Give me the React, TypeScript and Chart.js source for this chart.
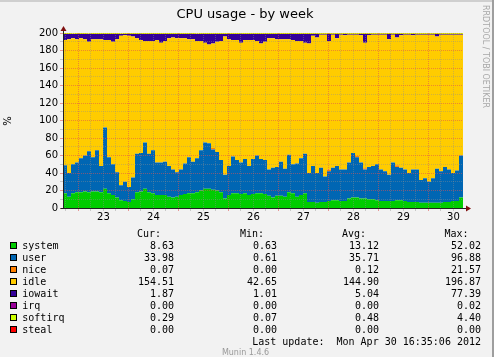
import React, { useEffect, useRef } from 'react';
import { Chart, registerables } from 'chart.js';

Chart.register(...registerables);

// ---- time axis (day-of-month units; Apr 22 16:35 -> Apr 30 16:35) ----
const START = 22.691;
const END = 30.691;
const STEP = 0.08; // one sample column = 1.92 h

// ---- series values (percent, 2 CPUs = 200%) ----
const SYSTEM = [
  17, 13, 17, 18, 18, 19, 18, 19, 19, 18, 22, 17, 15, 12, 9, 8, 7, 10, 18, 19, 22, 18, 17, 15, 15,
  15, 13, 12, 13, 15, 16, 17, 17, 18, 20, 22, 22, 21, 20, 18, 11, 15, 17, 17, 16, 17, 15, 16, 17, 17,
  16, 14, 12, 14, 14, 13, 18, 17, 13, 15, 17, 7, 7, 6, 7, 7, 8, 9, 9, 8, 8, 11, 12, 12, 11,
  11, 10, 10, 9, 8, 8, 8, 8, 9, 9, 8, 7, 7, 7, 6, 6, 6, 6, 6, 6, 7, 7, 8, 8, 12,
];
const USER = [
  32, 27, 33, 34, 39, 41, 47, 39, 47, 30, 70, 41, 35, 29, 17, 22, 17, 25, 44, 44, 53, 44, 49, 37, 37,
  38, 35, 32, 28, 29, 35, 41, 36, 39, 46, 53, 52, 46, 44, 37, 27, 33, 42, 38, 36, 39, 33, 40, 43, 39,
  39, 30, 34, 33, 39, 32, 43, 33, 38, 42, 45, 33, 41, 34, 39, 29, 34, 37, 39, 36, 36, 41, 51, 46, 41,
  33, 37, 38, 41, 36, 34, 30, 44, 38, 37, 36, 33, 37, 37, 26, 28, 24, 28, 39, 36, 40, 37, 32, 35, 48,
];
const NICE = [
  0, 0, 0, 0, 0, 0, 0, 0, 0, 0, 0, 0, 0, 0, 0, 0, 0, 0, 0, 0, 0, 0, 0, 0, 0,
  0, 0, 0, 0, 0, 0, 0, 0, 0, 0, 0, 0, 1.5, 0, 0, 0, 0, 0, 0, 0, 0, 0, 0, 0, 0,
  0, 0, 0, 0, 0, 0, 0, 0, 0, 0, 0, 0, 0, 0, 0, 0, 2, 0, 0, 0, 0, 0, 0, 1.5, 0,
  1.5, 0, 0, 0, 0, 0, 0, 0, 2, 0, 0, 0, 0, 0, 0, 0, 0, 0, 0, 0, 0, 0, 0, 0, 0,
];
const IDLE = [
  143, 153, 144, 141, 137, 133, 125, 135, 127, 145, 100, 134, 140, 152, 171, 167.5, 173, 161, 132, 129, 116, 129, 125, 140, 137,
  138, 146, 151, 153, 150, 143, 135, 140, 134, 125, 114, 113, 119.5, 126, 136, 158, 145, 133, 137, 137, 136, 144, 136, 131, 132,
  135, 150, 148, 146, 140, 148, 132, 142, 140, 134, 127, 148, 149, 155, 152, 162, 147, 152, 146, 154, 153.5, 146, 135, 138.5, 145.5,
  143.5, 150.8, 150, 148, 154, 156, 155, 146, 146, 151.5, 154, 158, 153.5, 154, 166, 164, 168, 164, 151, 156, 151, 154, 158, 155, 138,
];
const IOWAIT = [
  7, 6, 5, 6, 5, 6, 9, 6, 6, 6, 7, 7, 9, 6, 2, 1.5, 2, 3, 5, 7, 8, 8, 8, 7, 10,
  8, 5, 4, 5, 5, 5, 6, 6, 8, 8, 10, 12, 11, 9, 8, 3, 6, 7, 7, 10, 7, 7, 7, 8, 11,
  9, 5, 5, 6, 6, 6, 6, 7, 8, 8, 10, 11, 2, 4, 1, 1, 8, 1, 5, 1, 1.5, 1, 1, 1, 1.5,
  10, 1.2, 1, 1, 1, 1, 6, 1, 4, 1.5, 1, 1, 1.5, 1, 1, 1, 1, 1, 3, 1, 1, 1, 1, 1, 1,
];
const SOFTIRQ = [
  0.9, 0.9, 0.8, 0.9, 0.9, 0.9, 0.8, 0.9, 0.9, 0.9, 0.9, 0.9, 0.9, 0.9, 0.8, 0.9, 0.9, 0.9, 0.9, 0.9, 0.9, 0.9, 0.9, 0.9, 0.9,
  0.9, 0.9, 0.9, 0.9, 0.9, 0.9, 0.9, 0.9, 0.8, 0.9, 0.9, 0.9, 0.9, 0.9, 0.9, 0.9, 0.9, 0.9, 0.9, 0.9, 0.9, 0.9, 0.9, 0.9, 0.9,
  0.9, 0.9, 0.9, 0.9, 0.9, 0.9, 0.9, 0.9, 0.9, 0.9, 0.9, 0.9, 1.0, 1.0, 1.0, 1.0, 1.0, 1.0, 1.0, 1.0, 1.0, 1.0, 1.0, 1.0, 1.0,
  1.0, 1.0, 1.0, 1.0, 1.0, 1.0, 1.0, 1.0, 1.0, 1.0, 1.0, 1.0, 1.0, 1.0, 1.0, 1.0, 1.0, 1.0, 1.0, 1.0, 1.0, 1.0, 1.0, 1.0, 1.0,
];

// ---- legend table ----
const LEGEND_NAMES = ['system', 'user', 'nice', 'idle', 'iowait', 'irq', 'softirq', 'steal'];
const CUR = [8.63, 33.98, 0.07, 154.51, 1.87, 0.0, 0.29, 0.0];
const MIN = [0.63, 0.61, 0.0, 42.65, 1.01, 0.0, 0.07, 0.0];
const AVG = [13.12, 35.71, 0.12, 144.9, 5.04, 0.0, 0.48, 0.0];
const MAX = [52.02, 96.88, 21.57, 196.87, 77.39, 0.02, 4.4, 0.0];
const LAST_UPDATE = 'Last update:  Mon Apr 30 16:35:06 2012';

// ---- styles ----
const COLORS = ['#00CC00', '#0066B3', '#FF8000', '#FFCC00', '#330099', '#990099', '#CCFF00', '#FF0000'];
const GRID = 'rgba(143,143,143,0.42)';
const MGRID = 'rgba(222,80,80,0.55)';
const AXIS = '#202020';
const ARROW = '#7F1010';
const SANS = "'DejaVu Sans', sans-serif";
const MONO = "'DejaVu Sans Mono', monospace";

const SERIES = [
  { values: SYSTEM, color: COLORS[0] },
  { values: USER, color: COLORS[1] },
  { values: NICE, color: COLORS[2] },
  { values: IDLE, color: COLORS[3] },
  { values: IOWAIT, color: COLORS[4] },
  { values: SOFTIRQ, color: COLORS[6] },
];

function buildTimes(n: number): number[] {
  const t: number[] = [];
  for (let i = 0; i <= n; i++) t.push(START + i * STEP);
  return t;
}

function buildXTicks(): { value: number }[] {
  const out: { value: number }[] = [];
  for (let v = Math.ceil(START * 4) / 4; v < END; v += 0.25) out.push({ value: v });
  return out;
}

function buildYTicks(): { value: number }[] {
  const out: { value: number }[] = [];
  for (let v = 0; v <= 200; v += 10) out.push({ value: v });
  return out;
}

const decor = {
  id: 'decor',
  beforeDatasetsDraw(chart: any) {
    const { ctx, chartArea: a } = chart;
    ctx.save();
    ctx.fillStyle = '#FFFFFF';
    ctx.fillRect(a.left, a.top, a.right - a.left, a.bottom - a.top);
    ctx.restore();
  },
  afterDraw(chart: any) {
    const { ctx, chartArea: a } = chart;
    const x0 = Math.round(a.left) + 0.5;
    const y0 = Math.round(a.bottom) + 0.5;
    ctx.save();
    ctx.strokeStyle = AXIS;
    ctx.lineWidth = 1;
    ctx.beginPath();
    ctx.moveTo(x0, y0);
    ctx.lineTo(x0, a.top - 3);
    ctx.moveTo(x0 - 3, y0);
    ctx.lineTo(a.right + 3, y0);
    ctx.stroke();
    ctx.fillStyle = ARROW;
    ctx.beginPath();
    ctx.moveTo(x0, a.top - 7);
    ctx.lineTo(x0 - 3, a.top - 2);
    ctx.lineTo(x0 + 3, a.top - 2);
    ctx.closePath();
    ctx.fill();
    ctx.beginPath();
    ctx.moveTo(a.right + 8, y0);
    ctx.lineTo(a.right + 3, y0 - 3);
    ctx.lineTo(a.right + 3, y0 + 3);
    ctx.closePath();
    ctx.fill();
    ctx.restore();
  },
};

export default function App() {
  const ref = useRef<HTMLCanvasElement>(null);

  useEffect(() => {
    if (!ref.current) return;
    const times = buildTimes(SYSTEM.length);
    const datasets = SERIES.map((s, k) => {
      const vals = [...s.values, s.values[s.values.length - 1]];
      return {
        data: vals.map((y, i) => ({ x: times[i], y })),
        backgroundColor: s.color,
        borderColor: 'rgba(0,0,0,0)',
        borderWidth: 0,
        pointRadius: 0,
        stepped: true,
        fill: k === 0 ? 'origin' : '-1',
      };
    });
    const chart = new Chart(ref.current, {
      type: 'line',
      data: { datasets },
      options: {
        responsive: false,
        animation: false,
        events: [],
        layout: { padding: { left: 0, right: 31, top: 33, bottom: 129 } },
        plugins: {
          legend: { display: false },
          tooltip: { enabled: false },
          title: { display: false },
        },
        scales: {
          x: {
            type: 'linear',
            min: START,
            max: END,
            afterBuildTicks: (s: any) => {
              s.ticks = buildXTicks();
            },
            afterFit: (s: any) => {
              s.height = 20;
            },
            ticks: {
              autoSkip: false,
              maxRotation: 0,
              padding: 0,
              color: '#000',
              z: 2,
              font: { family: SANS, size: 10 },
              callback: (v: any) => {
                const n = Number(v);
                return Math.abs(n - Math.floor(n) - 0.5) < 1e-6 ? String(Math.floor(n)) : '';
              },
            },
            grid: {
              z: 1,
              color: (c: any) => (c.tick && Math.abs(c.tick.value - Math.round(c.tick.value)) < 1e-6 ? MGRID : GRID),
              lineWidth: 1,
              tickLength: 3,
            },
            border: { display: false, dash: [1, 1] },
          },
          y: {
            type: 'linear',
            min: 0,
            max: 200,
            stacked: true,
            afterBuildTicks: (s: any) => {
              s.ticks = buildYTicks();
            },
            afterFit: (s: any) => {
              s.width = 63;
            },
            ticks: {
              autoSkip: false,
              padding: 2,
              color: '#000',
              z: 2,
              font: { family: SANS, size: 10 },
              callback: (v: any) => (Number(v) % 20 === 0 ? String(v) : ''),
            },
            grid: {
              z: 1,
              color: (c: any) => (c.tick && c.tick.value % 20 === 0 ? MGRID : GRID),
              lineWidth: 1,
              tickLength: 3,
            },
            border: { display: false, dash: [1, 1] },
          },
        },
      } as any,
      plugins: [decor],
    });
    return () => chart.destroy();
  }, []);

  const rowTop = (i: number) => 240.8 + 12 * i;
  const mono: React.CSSProperties = {
    position: 'absolute',
    fontFamily: MONO,
    fontSize: 10,
    lineHeight: '10px',
    whiteSpace: 'pre',
    color: '#000',
  };
  const valueCols = [
    { data: CUR, right: 174 },
    { data: MIN, right: 277 },
    { data: AVG, right: 379 },
    { data: MAX, right: 481 },
  ];
  const headers = [
    { text: 'Cur:', left: 137 },
    { text: 'Min:', left: 240 },
    { text: 'Avg:', left: 342 },
    { text: 'Max:', left: 444.5 },
  ];

  return (
    <div
      style={{
        position: 'absolute',
        left: 0,
        top: 0,
        width: 494,
        height: 357,
        background: '#F2F2F2',
        overflow: 'hidden',
      }}
    >
      <div style={{ position: 'absolute', left: 0, top: 0, width: 494, height: 2, background: '#CFCFCF' }} />
      <div style={{ position: 'absolute', left: 492, top: 0, width: 2, height: 357, background: '#9E9E9E' }} />
      <canvas
        ref={ref}
        width={494}
        height={357}
        style={{ position: 'absolute', left: 0, top: 0, width: 494, height: 357 }}
      />
      <div
        style={{
          position: 'absolute',
          left: 0,
          top: 7.3,
          width: 490,
          textAlign: 'center',
          fontFamily: SANS,
          fontSize: 13,
          lineHeight: '13px',
          whiteSpace: 'pre',
          color: '#000',
        }}
      >
        CPU usage - by week
      </div>
      <div
        style={{
          position: 'absolute',
          left: 2,
          top: 115,
          width: 12,
          height: 12,
          fontFamily: SANS,
          fontSize: 10,
          lineHeight: '12px',
          textAlign: 'center',
          transform: 'rotate(-90deg)',
          color: '#000',
        }}
      >
        %
      </div>
      <div
        style={{
          position: 'absolute',
          left: 481.3,
          top: 5,
          writingMode: 'vertical-rl',
          fontFamily: SANS,
          fontSize: 8,
          lineHeight: '8px',
          whiteSpace: 'pre',
          color: '#A8A8A8',
        }}
      >
        RRDTOOL / TOBI OETIKER
      </div>
      {headers.map((h) => (
        <div key={h.text} style={{ ...mono, left: h.left, top: 228.8 }}>
          {h.text}
        </div>
      ))}
      {LEGEND_NAMES.map((name, i) => (
        <React.Fragment key={name}>
          <div
            style={{
              position: 'absolute',
              left: 10,
              top: 242 + 12 * i,
              width: 7,
              height: 7,
              boxSizing: 'border-box',
              border: '1px solid #000',
              background: COLORS[i],
            }}
          />
          <div style={{ ...mono, left: 22.3, top: rowTop(i) }}>{name}</div>
          {valueCols.map((c, k) => (
            <div key={k} style={{ ...mono, right: 494 - c.right, top: rowTop(i), textAlign: 'right' }}>
              {c.data[i].toFixed(2)}
            </div>
          ))}
        </React.Fragment>
      ))}
      <div style={{ ...mono, right: 494 - 481, top: 336.5, textAlign: 'right' }}>{LAST_UPDATE}</div>
      <div
        style={{
          position: 'absolute',
          left: 0,
          top: 349.2,
          width: 491,
          textAlign: 'center',
          fontFamily: SANS,
          fontSize: 8,
          lineHeight: '8px',
          whiteSpace: 'pre',
          color: '#999999',
        }}
      >
        Munin 1.4.6
      </div>
    </div>
  );
}
